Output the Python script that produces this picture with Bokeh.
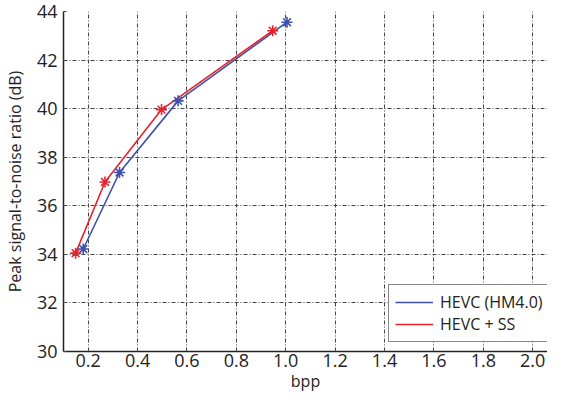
from bokeh.plotting import figure
from bokeh.embed import file_html
from bokeh.resources import INLINE
from bokeh.models import Range1d, FixedTicker, Legend, LegendItem

# Data
hevc_bpp = [0.18, 0.327, 0.564, 1.005]
hevc_psnr = [34.22, 37.37, 40.32, 43.56]
ss_bpp = [0.149, 0.268, 0.497, 0.947]
ss_psnr = [34.05, 36.98, 39.96, 43.21]
x_ticks = [0.2, 0.4, 0.6, 0.8, 1.0, 1.2, 1.4, 1.6, 1.8, 2.0]
y_ticks = [30, 32, 34, 36, 38, 40, 42, 44]
labels = ["HEVC (HM4.0)", "HEVC + SS"]
x_title = "bpp"
y_title = "Peak signal-to-noise ratio (dB)"

BLUE = "#3e50a8"
RED = "#e8222c"
FONT = "Open Sans"

p = figure(width=547, height=394, output_backend="svg", toolbar_location=None,
           x_range=Range1d(0.1, 2.06), y_range=Range1d(30, 44),
           min_border_left=56, min_border_right=0, min_border_top=11, min_border_bottom=40)
p.outline_line_color = None

p.xaxis.ticker = FixedTicker(ticks=x_ticks)
p.yaxis.ticker = FixedTicker(ticks=y_ticks)
p.xaxis.major_label_overrides = {t: f"{t:.1f}" for t in x_ticks}
for ax in (p.xaxis, p.yaxis):
    ax.major_tick_line_color = "#444444"
    ax.major_tick_in = 3
    ax.major_tick_out = 0
    ax.minor_tick_line_color = None
    ax.axis_line_color = "#222222"
    ax.axis_line_width = 1.5
    ax.major_label_text_font = FONT
    ax.major_label_text_font_size = "18px"
    ax.major_label_text_color = "#222222"
    ax.axis_label_text_font = FONT
    ax.axis_label_text_font_size = "16px"
    ax.axis_label_text_font_style = "normal"
    ax.axis_label_text_color = "#222222"
p.xaxis.axis_label = x_title
p.yaxis.axis_label = y_title
p.xaxis.major_label_standoff = 2
p.yaxis.major_label_standoff = 6
p.xaxis.axis_label_standoff = 0
p.yaxis.axis_label_standoff = 8

for g in (p.xgrid, p.ygrid):
    g.grid_line_color = "#444444"
    g.grid_line_dash = "4 2 1 2"
    g.grid_line_width = 1
    g.grid_line_alpha = 1.0

l1 = p.line(hevc_bpp, hevc_psnr, color=BLUE, line_width=1.6)
l2 = p.line(ss_bpp, ss_psnr, color=RED, line_width=1.6)
p.scatter(hevc_bpp, hevc_psnr, marker="asterisk", size=11, line_color=BLUE, line_width=1.6)
p.scatter(ss_bpp, ss_psnr, marker="asterisk", size=11, line_color=RED, line_width=1.6)

legend = Legend(items=[LegendItem(label=labels[0], renderers=[l1]),
                       LegendItem(label=labels[1], renderers=[l2])],
                location=(325, 9))
legend.border_line_color = "#111111"
legend.border_line_width = 1
legend.background_fill_alpha = 1.0
legend.padding = 6
legend.spacing = 0
legend.margin = 0
legend.glyph_width = 38
legend.glyph_height = 20
legend.label_height = 20
legend.label_standoff = 7
legend.label_text_font = FONT
legend.label_text_font_size = "16px"
legend.label_text_color = "#222222"
legend.label_text_baseline = "middle"
p.add_layout(legend, "center")

open("out.html", "w").write(file_html(p, INLINE))
